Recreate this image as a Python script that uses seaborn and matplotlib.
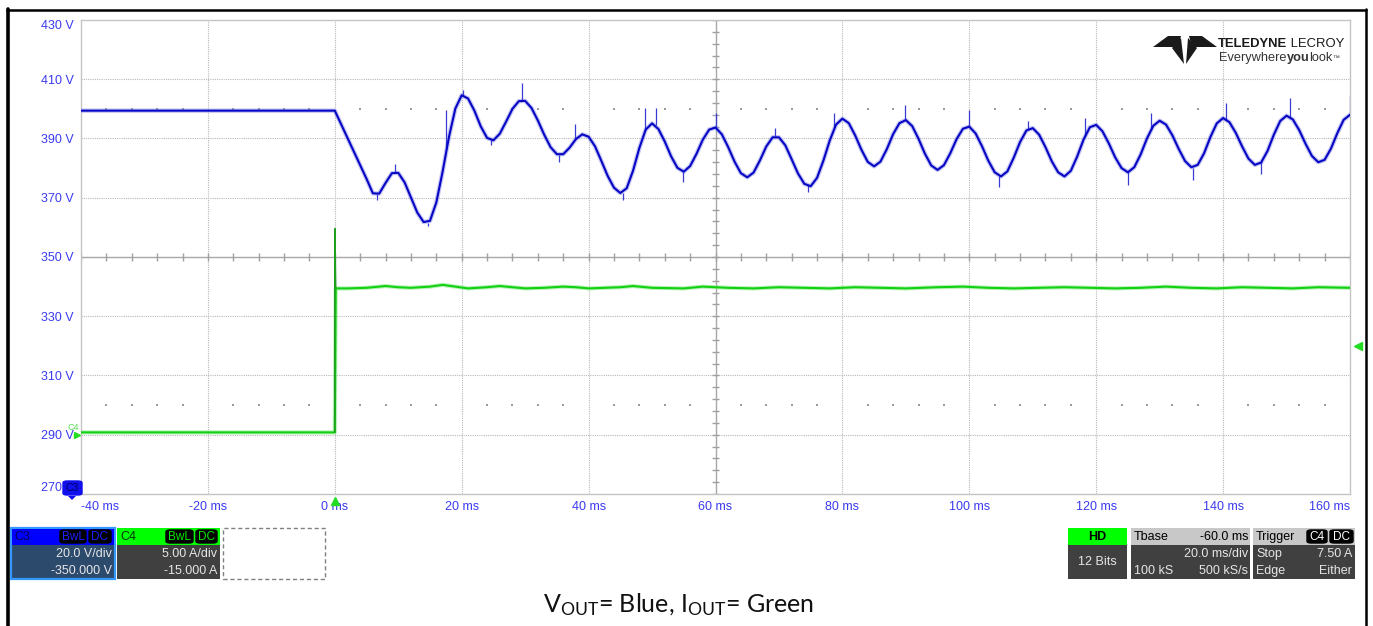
import numpy as np
import pandas as pd
import matplotlib
matplotlib.use("Agg")
import matplotlib.pyplot as plt
import matplotlib.transforms as mtransforms
from matplotlib.patches import Rectangle, Polygon, FancyBboxPatch
from matplotlib.lines import Line2D
import seaborn as sns

# ---------------- data ----------------
# C3 : output voltage (V), time in ms
vout_time_ms = [-40] + list(range(0, 161))
vout_v = [399.4,
          399.4, 394.8, 390.2, 385.6, 381.0, 376.4, 371.5, 371.4, 375.0, 378.3,
          378.4, 375.2, 370.1, 365.0, 361.8, 362.2, 368.4, 378.9, 390.6, 400.1,
          404.6, 403.5, 399.4, 394.1, 390.2, 389.4, 391.6, 395.7, 400.0, 402.6,
          402.7, 400.3, 396.1, 391.3, 387.1, 384.7, 384.7, 386.9, 389.8, 391.4,
          390.6, 387.4, 382.5, 377.4, 373.4, 371.6, 373.2, 379.1, 386.8, 393.0,
          395.1, 393.2, 389.0, 384.0, 380.1, 378.8, 380.7, 384.8, 389.6, 393.0,
          393.7, 391.4, 387.1, 382.2, 378.3, 376.9, 378.5, 382.6, 387.3, 390.4,
          390.4, 387.7, 383.0, 378.2, 374.7, 373.9, 376.7, 382.5, 389.3, 394.7,
          396.7, 395.2, 391.1, 386.2, 382.1, 380.6, 382.2, 386.4, 391.5, 395.2,
          396.2, 394.2, 389.9, 384.9, 380.9, 379.4, 381.0, 385.0, 389.8, 393.3,
          394.0, 391.7, 387.4, 382.5, 378.6, 377.2, 378.9, 383.5, 388.8, 392.7,
          393.5, 391.3, 387.1, 382.3, 378.6, 377.2, 379.1, 383.9, 389.6, 393.8,
          394.6, 392.4, 388.3, 383.6, 380.0, 378.6, 380.3, 384.6, 390.0, 394.3,
          396.0, 394.7, 391.1, 386.5, 382.4, 380.3, 381.1, 385.0, 390.5, 395.1,
          396.9, 395.5, 391.9, 387.3, 383.2, 381.1, 381.9, 385.8, 391.3, 395.9,
          397.7, 396.4, 392.8, 388.2, 384.1, 382.0, 382.8, 386.6, 391.8, 396.3,
          398.0]

# visible noise spikes on C3 (time, from, to)
spike_time_ms = [6.6, 9.5, 14.7, 17.6, 20.2, 24.6, 29.5, 35.3, 37.9, 45.4,
                 48.9, 50.6, 54.9, 60.0, 69.3, 74.5, 78.7, 89.9, 100.0, 104.7,
                 109.3, 118.3, 125.0, 128.7, 135.3, 140.5, 146.0, 150.5, 160.0]
spike_from_v = [371.4, 378.8, 361.6, 386.0, 404.7, 389.5, 403.0, 384.5, 389.5, 371.7,
                392.5, 394.5, 378.8, 393.7, 390.7, 374.2, 393.5, 396.3, 394.0, 377.5,
                393.2, 391.0, 378.6, 393.0, 380.2, 396.4, 381.9, 397.2, 398.0]
spike_to_v = [369.2, 381.4, 360.5, 399.6, 406.4, 387.8, 408.8, 382.2, 394.8, 369.2,
              400.2, 400.2, 375.4, 398.6, 393.6, 371.9, 398.6, 401.3, 399.7, 373.6,
              395.8, 396.9, 374.3, 398.6, 376.1, 402.0, 378.0, 403.8, 404.3]

# C4 : output current (A)
iout_time_ms = [-40, 0, 0, 0.15, 2, 5, 8, 10, 12, 15, 17, 19, 21, 24, 26, 28, 30, 33,
                36, 38, 40, 45, 47, 50, 55, 58, 62, 66, 70, 74, 78, 82, 86, 90, 95,
                99, 103, 107, 111, 115, 119, 123, 127, 131, 135, 139, 143, 147, 151,
                155, 160]
iout_a = [0.2, 0.2, 17.4, 12.35, 12.35, 12.4, 12.55, 12.45, 12.4, 12.5, 12.65, 12.5,
          12.35, 12.45, 12.55, 12.45, 12.35, 12.4, 12.5, 12.45, 12.35, 12.45, 12.55,
          12.4, 12.35, 12.5, 12.4, 12.35, 12.45, 12.4, 12.35, 12.45, 12.4, 12.35,
          12.45, 12.5, 12.4, 12.35, 12.4, 12.45, 12.4, 12.35, 12.4, 12.5, 12.4,
          12.35, 12.45, 12.4, 12.35, 12.45, 12.4]

x_ticks_ms = [-40, -20, 0, 20, 40, 60, 80, 100, 120, 140, 160]
y_ticks_v = [270, 290, 310, 330, 350, 370, 390, 410, 430]
c4_range_a = [-5, 35]       # 5 A/div, -15 A offset
trigger_level_a = 7.5

caption = r"V$_{\mathrm{OUT}}$= Blue, I$_{\mathrm{OUT}}$= Green"

# ---------------- style ----------------
sns.set_theme(style="white")
plt.rcParams['font.family'] = ['Liberation Sans', 'DejaVu Sans']
plt.rcParams['mathtext.fontset'] = 'custom'
plt.rcParams['mathtext.rm'] = 'Lato'
plt.rcParams['mathtext.it'] = 'Lato:italic'
plt.rcParams['mathtext.bf'] = 'Lato:bold'

W, H, DPI = 1373, 626, 100
fig = plt.figure(figsize=(W / DPI, H / DPI), dpi=DPI)
fig.patch.set_facecolor('white')


def fx(x):
    return x / W


def fy(y):
    return 1 - y / H


def frect(x0, y0, x1, y1, **kw):
    r = Rectangle((fx(x0), fy(y1)), (x1 - x0) / W, (y1 - y0) / H,
                  transform=fig.transFigure, **kw)
    fig.add_artist(r)
    return r


def fbox(x0, y0, x1, y1, **kw):
    r = FancyBboxPatch((fx(x0), fy(y1)), (x1 - x0) / W, (y1 - y0) / H,
                       boxstyle="round,pad=0,rounding_size=0.003",
                       transform=fig.transFigure, **kw)
    fig.add_artist(r)
    return r


def ftext(x, y, s, **kw):
    return fig.text(fx(x), fy(y), s, **kw)


TICK_C = "#3a3af0"
GRID_C = "#b8b8b8"

ax = fig.add_axes([fx(81), fy(494), (1350 - 81) / W, (494 - 20) / H])
ax.set_facecolor('white')

# grid
for t in x_ticks_ms[1:-1]:
    if t == 60:
        ax.axvline(t, color="#a8a8a8", lw=1.0, zorder=1)
    else:
        ax.axvline(t, color=GRID_C, lw=0.8, ls=(0, (1, 1)), zorder=1)
for v in y_ticks_v[1:-1]:
    if v == 350:
        ax.axhline(v, color="#a8a8a8", lw=1.0, zorder=1)
    else:
        ax.axhline(v, color=GRID_C, lw=0.8, ls=(0, (1, 1)), zorder=1)

# minor ticks on the centre cross
t_sub = np.arange(x_ticks_ms[0], x_ticks_ms[-1] + 0.1, 4)
v_sub = np.arange(y_ticks_v[0], y_ticks_v[-1] + 0.1, 4)
ax.vlines(t_sub, 350 - 1.3, 350 + 1.3, color="#a0a0a0", lw=1.0, zorder=1)
ax.hlines(v_sub, 60 - 0.6, 60 + 0.6, color="#a0a0a0", lw=1.0, zorder=1)
# dotted sub-division rows
dots_t = [t for t in t_sub if t % 20 != 0]
for v in (400, 300):
    ax.scatter(dots_t, [v] * len(dots_t), s=1.2, color="#9a9a9a", marker='s',
               linewidths=0, zorder=1)

# C3 trace
df_v = pd.DataFrame({"time_ms": vout_time_ms, "vout_v": vout_v})
sns.lineplot(data=df_v, x="time_ms", y="vout_v", ax=ax, color="#8c8ce8", lw=3.2,
             alpha=0.5, estimator=None, sort=False, legend=False, zorder=3)
ax.vlines(spike_time_ms, spike_from_v, spike_to_v, color="#3a3ad4", lw=0.9, zorder=3)
sns.lineplot(data=df_v, x="time_ms", y="vout_v", ax=ax, color="#0606c4", lw=1.5,
             estimator=None, sort=False, legend=False, zorder=4)

ax.set_xlim(x_ticks_ms[0], x_ticks_ms[-1])
ax.set_ylim(y_ticks_v[0], y_ticks_v[-1])
ax.set_xticks(x_ticks_ms)
ax.set_xticklabels([f"{t} ms" for t in x_ticks_ms])
ax.set_yticks(y_ticks_v)
ax.set_yticklabels([f"{v} V" for v in y_ticks_v])
ax.tick_params(axis='both', length=0, labelsize=9, labelcolor=TICK_C)
ax.tick_params(axis='x', pad=5)
ax.tick_params(axis='y', pad=5)
xl = ax.get_xticklabels()
xl[0].set_ha('left')
xl[-1].set_ha('right')
yl = ax.get_yticklabels()
yl[0].set_va('bottom')
yl[-1].set_va('top')
ax.set_xlabel("")
ax.set_ylabel("")
for s in ax.spines.values():
    s.set_color("#c4c4c4")
    s.set_linewidth(1.0)

# C4 trace on its own scale
ax2 = ax.twinx()
df_i = pd.DataFrame({"time_ms": iout_time_ms, "iout_a": iout_a})
df_i_flat = df_i.drop(index=[2]).reset_index(drop=True)
sns.lineplot(data=df_i_flat, x="time_ms", y="iout_a", ax=ax2, color="#7ee87e", lw=3.0,
             alpha=0.55, estimator=None, sort=False, legend=False, zorder=3)
sns.lineplot(data=df_i_flat, x="time_ms", y="iout_a", ax=ax2, color="#12d012", lw=1.5,
             estimator=None, sort=False, legend=False, zorder=4)
# the thin step / overshoot at the load change
sns.lineplot(data=df_i.iloc[1:4], x="time_ms", y="iout_a", ax=ax2, color="#1d9e1d", lw=1.1,
             estimator=None, sort=False, legend=False, zorder=5)
ax2.set_ylim(*c4_range_a)
ax2.set_xlim(x_ticks_ms[0], x_ticks_ms[-1])
ax2.set_yticks([])
ax2.set_ylabel("")
for s in ax2.spines.values():
    s.set_visible(False)

# markers: trigger time, trigger level, C4 ground, C3 offset
tr_x = mtransforms.blended_transform_factory(ax.transData, ax.transAxes)
ax.plot([0], [-0.014], marker='^', ms=6, color="#22dd22", transform=tr_x, clip_on=False, zorder=6)
tr_r = mtransforms.blended_transform_factory(ax2.transAxes, ax2.transData)
ax2.plot([1.006], [trigger_level_a], marker='<', ms=6, color="#22dd22", transform=tr_r,
         clip_on=False, zorder=6)
ax2.plot([-0.003], [0], marker='>', ms=4, color="#22dd22", transform=tr_r, clip_on=False, zorder=6)
ax2.text(-0.011, 0.25, "C4", transform=tr_r, fontsize=6.5, color="#55dd55", ha='left',
         va='bottom', clip_on=False)

fbox(63, 481, 82, 495, facecolor="#1010ee", edgecolor="#1010ee", zorder=10)
ftext(72.5, 488, "C3", fontsize=7.5, color="#000060", ha='center', va='center', zorder=11)
fig.add_artist(Polygon([(fx(68), fy(496)), (fx(76), fy(496)), (fx(72), fy(500))],
                       closed=True, transform=fig.transFigure, facecolor="#1010ee",
                       edgecolor='none', zorder=10))

# ---------------- outer frame ----------------
fig.add_artist(Line2D([fx(8), fx(8)], [fy(9), 0], transform=fig.transFigure, color='black', lw=2.6))
fig.add_artist(Line2D([fx(7), fx(1366)], [fy(10), fy(10)], transform=fig.transFigure, color='black', lw=1.8))
fig.add_artist(Line2D([fx(1366), fx(1366)], [fy(9), 0], transform=fig.transFigure, color='black', lw=1.8))

# ---------------- logo ----------------
logo_c = "#1a1a1a"
for poly in ([(1153, 47), (1168, 36), (1181, 36), (1178, 47)],
             [(1172, 48), (1181, 38), (1184, 64)],
             [(1188, 38), (1197, 48), (1186, 64)],
             [(1189, 36), (1202, 36), (1217, 47), (1192, 47)]):
    fig.add_artist(Polygon([(fx(x), fy(y)) for x, y in poly], closed=True,
                           transform=fig.transFigure, facecolor=logo_c, edgecolor='none'))

renderer = fig.canvas.get_renderer()


def seq_text(x, y, parts, **kw):
    for s, extra in parts:
        opts = dict(kw)
        opts.update(extra)
        t = ftext(x, y, s, **opts)
        bb = t.get_window_extent(renderer=renderer)
        x += bb.width


seq_text(1218, 44, [("TELEDYNE", dict(fontweight='bold')), (" LECROY", {})],
         fontsize=9.4, color=logo_c, va='center', ha='left')
seq_text(1219, 58, [("Everywhere", {}), ("you", dict(fontweight='bold')), ("look", {}),
                    ("\u2122", dict(fontsize=5))],
         fontsize=9.2, color="#333333", va='center', ha='left')

# ---------------- info boxes ----------------
INFO = dict(fontsize=9, color="#e6e6e6", va='center')
HDR = dict(fontsize=9, va='center')


def badge(x0, x1, label, col):
    fbox(x0, 530, x1, 543, facecolor='black', edgecolor='black', zorder=5)
    ftext((x0 + x1) / 2, 536.5, label, fontsize=8.5, color=col, ha='center', va='center', zorder=6)


# C3
frect(11, 528, 115, 579, facecolor="#2c4a6c", edgecolor="#3399ff", lw=1.6)
frect(12, 529, 114, 545, facecolor="#0000ff", edgecolor='none')
ftext(14, 537, "C3", color="#000055", ha='left', **HDR)
badge(60, 86, "BwL", "#1e1eff")
badge(89, 111, "DC", "#1e1eff")
ftext(112, 554, "20.0 V/div", ha='right', **INFO)
ftext(112, 571, "-350.000 V", ha='right', **INFO)

# C4
frect(117, 528, 220, 579, facecolor="#404040", edgecolor='none')
frect(117, 528, 220, 545, facecolor="#00ff00", edgecolor='none')
ftext(120, 537, "C4", color="#003300", ha='left', **HDR)
badge(166, 193, "BwL", "#00ee00")
badge(196, 217, "DC", "#00ee00")
ftext(217, 554, "5.00 A/div", ha='right', **INFO)
ftext(217, 571, "-15.000 A", ha='right', **INFO)

# empty slot
frect(223, 528, 325, 579, facecolor='none', edgecolor="#808080", lw=1.0, ls=(0, (3, 2)))

# HD
frect(1068, 528, 1127, 579, facecolor="#404040", edgecolor='none')
frect(1068, 528, 1127, 545, facecolor="#00ff00", edgecolor='none')
ftext(1097.5, 537, "HD", color="black", ha='center', fontweight='bold', **HDR)
ftext(1097.5, 562, "12 Bits", ha='center', **INFO)

# Tbase
frect(1131, 528, 1250, 579, facecolor="#404040", edgecolor='none')
frect(1131, 528, 1250, 545, facecolor="#c8c8c8", edgecolor='none')
ftext(1134, 537, "Tbase", color="black", ha='left', **HDR)
ftext(1248, 537, "-60.0 ms", color="black", ha='right', **HDR)
ftext(1248, 554, "20.0 ms/div", ha='right', **INFO)
ftext(1134, 571, "100 kS", ha='left', **INFO)
ftext(1248, 571, "500 kS/s", ha='right', **INFO)

# Trigger
frect(1253, 528, 1355, 579, facecolor="#404040", edgecolor='none')
frect(1253, 528, 1355, 545, facecolor="#c8c8c8", edgecolor='none')
ftext(1256, 537, "Trigger", color="black", ha='left', **HDR)
badge(1307, 1327, "C4", "white")
badge(1330, 1353, "DC", "white")
ftext(1256, 554, "Stop", ha='left', **INFO)
ftext(1352, 554, "7.50 A", ha='right', **INFO)
ftext(1256, 571, "Edge", ha='left', **INFO)
ftext(1352, 571, "Either", ha='right', **INFO)

# caption
ftext(679, 605, caption, fontsize=18, color="#111111", ha='center', va='center',
      family='Lato')

fig.savefig("out.png", dpi=DPI, facecolor='white')
